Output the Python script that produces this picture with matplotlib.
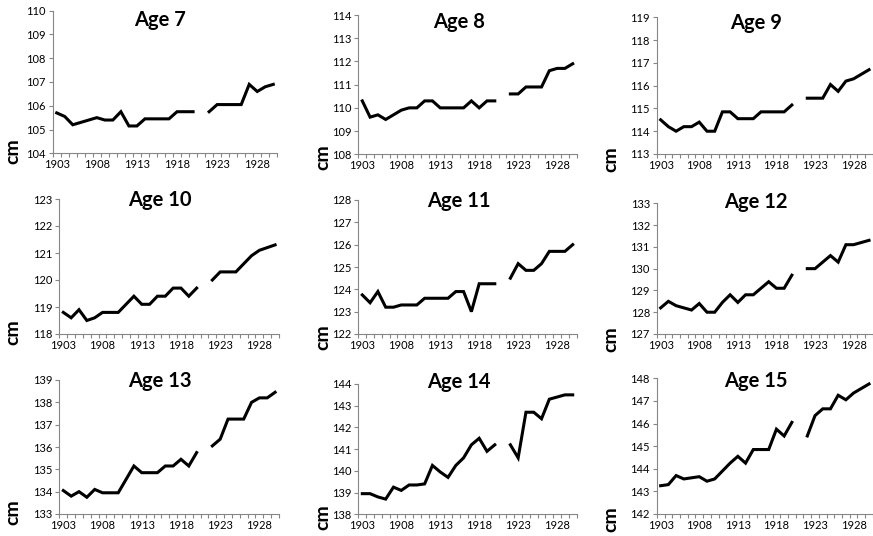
import matplotlib
matplotlib.use("Agg")
import matplotlib.pyplot as plt
import numpy as np

nan = np.nan
years = list(range(1903, 1931))

age7 = [105.7, 105.55, 105.2, 105.3, 105.4, 105.5, 105.4, 105.4, 105.75, 105.15, 105.15, 105.45, 105.45, 105.45,
        105.45, 105.75, 105.75, 105.75, nan, 105.75, 106.05, 106.05, 106.05, 106.05, 106.9, 106.6, 106.8, 106.9]
age8 = [110.3, 109.6, 109.7, 109.5, 109.7, 109.9, 110.0, 110.0, 110.3, 110.3, 110.0, 110.0, 110.0, 110.0,
        110.3, 110.0, 110.3, 110.3, nan, 110.6, 110.6, 110.9, 110.9, 110.9, 111.6, 111.7, 111.7, 111.9]
age9 = [114.5, 114.2, 114.0, 114.2, 114.2, 114.4, 114.0, 114.0, 114.85, 114.85, 114.55, 114.55, 114.55, 114.85,
        114.85, 114.85, 114.85, 115.15, nan, 115.45, 115.45, 115.45, 116.05, 115.75, 116.2, 116.3, 116.5, 116.7]
age10 = [118.8, 118.6, 118.9, 118.5, 118.6, 118.8, 118.8, 118.8, 119.1, 119.4, 119.1, 119.1, 119.4, 119.4,
         119.7, 119.7, 119.4, 119.7, nan, 120.0, 120.3, 120.3, 120.3, 120.6, 120.9, 121.1, 121.2, 121.3]
age11 = [123.75, 123.4, 123.9, 123.2, 123.2, 123.3, 123.3, 123.3, 123.6, 123.6, 123.6, 123.6, 123.9, 123.9,
         123.0, 124.25, 124.25, 124.25, nan, 124.5, 125.15, 124.85, 124.85, 125.15, 125.7, 125.7, 125.7, 126.0]
age12 = [128.2, 128.5, 128.3, 128.2, 128.1, 128.4, 128.0, 128.0, 128.45, 128.8, 128.45, 128.8, 128.8, 129.1,
         129.4, 129.1, 129.1, 129.7, nan, 130.0, 130.0, 130.3, 130.6, 130.3, 131.1, 131.1, 131.2, 131.3]
age13 = [134.05, 133.8, 134.0, 133.75, 134.1, 133.95, 133.95, 133.95, 134.55, 135.15, 134.85, 134.85, 134.85, 135.15,
         135.15, 135.45, 135.15, 135.75, nan, 136.05, 136.35, 137.25, 137.25, 137.25, 138.0, 138.2, 138.2, 138.45]
age14 = [138.95, 138.95, 138.8, 138.7, 139.25, 139.1, 139.35, 139.35, 139.4, 140.25, 139.95, 139.7, 140.25, 140.6,
         141.2, 141.5, 140.9, 141.2, nan, 141.2, 140.6, 142.7, 142.7, 142.4, 143.3, 143.4, 143.5, 143.5]
age15 = [143.25, 143.3, 143.7, 143.55, 143.6, 143.65, 143.45, 143.55, 143.9, 144.25, 144.55, 144.25, 144.85, 144.85,
         144.85, 145.75, 145.45, 146.05, nan, 145.45, 146.35, 146.65, 146.65, 147.25, 147.05, 147.35, 147.55, 147.75]

titles = ["Age 7", "Age 8", "Age 9", "Age 10", "Age 11", "Age 12", "Age 13", "Age 14", "Age 15"]
series = [age7, age8, age9, age10, age11, age12, age13, age14, age15]
y_ranges = [(104, 110), (108, 114), (113, 119), (118, 123), (122, 128), (127, 133),
            (133, 139), (138, 144), (142, 148)]

W, H = 873, 536
plt.rcParams['font.family'] = ['Lato', 'DejaVu Sans']
fig = plt.figure(figsize=(W / 100, H / 100), dpi=100)

# plot area boxes in pixels: x0, x1, ytop, ybottom
boxes = [(52.7, 277.3, 10.7, 153.3), (358.4, 576.6, 15, 154.3), (656.8, 872.9, 17.3, 154),
         (59.4, 279, 199, 334), (358.4, 576.6, 200, 334), (656.8, 872.9, 203.3, 334),
         (59.4, 279, 380, 514), (358.4, 576.6, 384, 514.3), (656.8, 872.9, 378.3, 514)]
title_pos = [(160, 20), (459, 21.5), (756, 23), (160, 200), (459, 201), (756, 202),
             (160, 381), (459, 382), (756, 381)]
# "cm" label position per column: x, offset from plot bottom
cm_pos = [(13, -2), (323, 3), (611, 5)]

grey = "#868686"
x = np.arange(len(years))
for i, (ttl, vals, yr, box, tp) in enumerate(zip(titles, series, y_ranges, boxes, title_pos)):
    x0, x1, yt, yb = box
    ax = fig.add_axes([x0 / W, 1 - yb / H, (x1 - x0) / W, (yb - yt) / H])
    ax.plot(x, vals, color="black", lw=2.2, solid_joinstyle="miter")
    ax.set_xlim(-0.5, len(years) - 0.5)
    ax.set_ylim(*yr)
    ax.set_yticks(range(yr[0], yr[1] + 1))
    ax.set_xticks(np.arange(-0.5, len(years)), labels=[])
    ax.set_xticks(x[::5], labels=[str(y) for y in years[::5]], minor=True)
    ax.tick_params(axis="x", which="major", length=3, color=grey, width=0.8, direction="out")
    ax.tick_params(axis="x", which="minor", length=0, labelsize=8, pad=4)
    ax.tick_params(axis="y", length=3, color=grey, width=0.8, labelsize=8, pad=2)
    for s in ["top", "right"]:
        ax.spines[s].set_visible(False)
    for s in ["left", "bottom"]:
        ax.spines[s].set_color(grey)
        ax.spines[s].set_linewidth(0.8)
    ax.patch.set_alpha(0)
    fig.text(tp[0] / W, 1 - tp[1] / H, ttl, ha="center", va="center", fontsize=14.5, fontweight="bold")
    cx, dy = cm_pos[i % 3]
    fig.text(cx / W, 1 - (yb + dy) / H, "cm", ha="center", va="center", rotation=90,
             fontsize=14, fontweight="bold")

fig.savefig("out.png", dpi=100)
